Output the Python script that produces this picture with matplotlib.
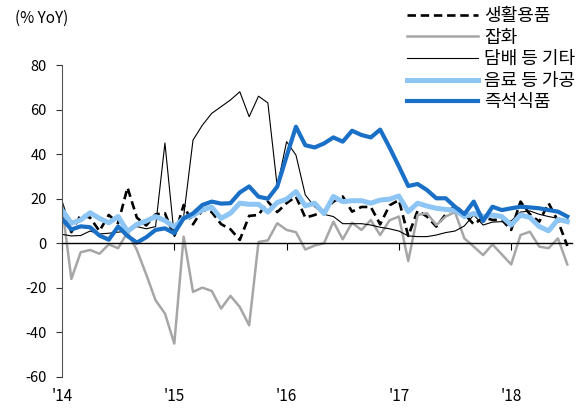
import matplotlib
matplotlib.use("Agg")
import matplotlib.pyplot as plt

plt.rcParams['font.family'] = ['Noto Sans CJK KR', 'DejaVu Sans']
plt.rcParams['axes.unicode_minus'] = False

# monthly YoY (%), Jan 2014 - Jul 2018
years = ["'14", "'15", "'16", "'17", "'18"]
year_pos = [0, 12, 24, 36, 48]

living_goods = [18, 5, 12.7, 11.5, 5.5, 12.7, 9, 25, 11.5, 8, 13, 13.5, 3, 17.2, 8.5,
                15, 14, 8.6, 6.3, 1.5, 12.3, 12.7, 18.7, 14, 18, 21, 11.5, 12.7, 14.6,
                18.7, 21, 14.2, 16.3, 16.3, 8.5, 17, 19.4, 3.3, 14.6, 12, 7.5, 13, 17,
                13.2, 8.5, 11.5, 10.5, 10.5, 6, 18.7, 13, 9.7, 18, 10, -1.2]
sundries = [17, -16, -4, -3, -4.7, -0.5, -2.2, 5, -3, -14, -25.6, -31.5, -45, 3,
            -21.8, -19.9, -21.4, -29.3, -23.6, -28.6, -36.8, 0.6, 1.3, 9, 6, 5, -2.8,
            -1, 0, 9.7, 1.8, 9.2, 6, 10.4, 3.7, 10.3, 12, -8, 12.7, 13.5, 8.2, 12, 14,
            2.2, -1.5, -5.3, -0.5, -5, -9.5, 3.7, 5.2, -1.5, -2.2, 2.2, -9.5]
tobacco_etc = [4, 3.3, 3.5, 5.5, 4.2, 4.5, 5, 5.5, 7.5, 6.5, 7.5, 45, 3, 12, 46.3,
               53, 58.3, 61.3, 64.3, 68, 56.8, 66, 63, 25.4, 45.6, 39.6, 21.7, 16.4,
               13, 12, 8.8, 8.8, 8.8, 8.2, 7.2, 6.5, 5.5, 3.3, 3, 3, 3.7, 4.8, 5.5,
               7.8, 12.7, 8.2, 9.5, 9.7, 10, 14, 14.5, 13, 12, 11.2, 10.5]
beverages = [15, 9, 10.5, 13.7, 11.2, 9.2, 12, 5.3, 8.5, 10, 12, 10.2, 7.3, 11.3,
             12.5, 15, 16.2, 11.2, 13.5, 18, 17.5, 17.5, 14, 18.3, 19.8, 23.2, 16.8,
             18, 13.3, 21, 18.7, 19.1, 19.1, 18, 19.4, 19.8, 21.2, 14.2, 18, 16.7,
             15.7, 15.2, 14.9, 12, 13.4, 12, 12.7, 12, 8.2, 12.7, 11.6, 7.5, 5.6,
             10.7, 9.7]
instant_food = [11, 6.2, 7.6, 7.2, 3.5, 1.6, 7.5, 3.3, 0.3, 2.7, 6, 6.7, 4.5, 11.2,
                13.4, 17.2, 18.7, 17.8, 18, 22.8, 25.5, 20.9, 20, 25.4, 39, 52.3, 44,
                43, 44.8, 47.5, 45.6, 50.5, 48.6, 47.5, 51, 43, 34.5, 25.7, 26.6, 23.9,
                20.2, 20.2, 16.4, 13.1, 18.7, 10, 16.4, 14.9, 15.7, 16.4, 16.1, 15.7,
                14.9, 14.2, 12]

months = list(range(len(instant_food)))

fig = plt.figure(figsize=(5.84, 4.08), dpi=100)
ax = fig.add_axes([62 / 584, 31 / 408, 510 / 584, 312 / 408])

ax.plot(months, living_goods, color='black', lw=1.9, ls=(0, (3.2, 1.8)), label='생활용품')
ax.plot(months, sundries, color='#a6a6a6', lw=1.8, label='잡화')
ax.plot(months, tobacco_etc, color='black', lw=0.8, label='담배 등 기타')
ax.plot(months, beverages, color='#8dc5f5', lw=3.6, label='음료 등 가공')
ax.plot(months, instant_food, color='#1a70c6', lw=3.0, label='즉석식품')

ax.set_xlim(0, 54.5)
ax.set_ylim(-60, 80)
ax.set_yticks(range(-60, 81, 20))
ax.tick_params(axis='y', length=4, width=0.8, labelsize=10.5, pad=7, colors='#333333',
               labelcolor='black')

ax.spines['top'].set_visible(False)
ax.spines['right'].set_visible(False)
ax.spines['left'].set_color('#555555')
ax.spines['bottom'].set_position(('data', 0))
ax.spines['bottom'].set_linewidth(1.0)
ax.set_xticks(year_pos)
ax.tick_params(axis='x', length=5, width=0.8, labelbottom=False)
for pos, lab in zip(year_pos, years):
    ax.text(pos, -0.035, lab, transform=ax.get_xaxis_transform(), ha='center',
            va='top', fontsize=11)

fig.text(15 / 584, 1 - 18 / 408, '(% YoY)', fontsize=11, va='center', ha='left')

fig.legend(loc='upper right', bbox_to_anchor=(1.0, 1.005), frameon=False, fontsize=13,
           handlelength=3.9, handletextpad=0.35, labelspacing=0.2, borderaxespad=0.1)

fig.savefig('out.png', dpi=100)
